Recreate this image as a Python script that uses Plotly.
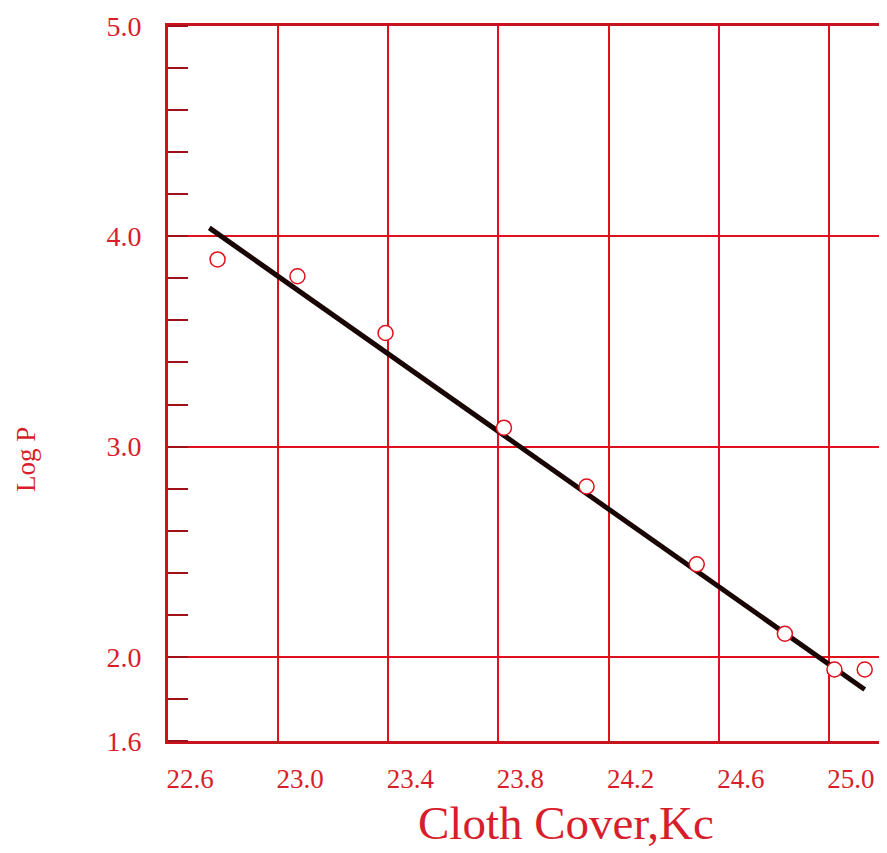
import plotly.graph_objects as go

# Data
kc = [22.78, 23.07, 23.39, 23.82, 24.12, 24.52, 24.84, 25.02, 25.13]
log_p = [3.89, 3.81, 3.54, 3.09, 2.81, 2.44, 2.11, 1.94, 1.94]
fit_kc = [22.75, 25.13]
fit_log_p = [4.04, 1.845]

x_ticks = [22.6, 23.0, 23.4, 23.8, 24.2, 24.6, 25.0]
x_labels = ["22.6", "23.0", "23.4", "23.8", "24.2", "24.6", "25.0"]
y_ticks = [1.6, 2.0, 3.0, 4.0, 5.0]
y_labels = ["1.6", "2.0", "3.0", "4.0", "5.0"]

RED = "#e0101c"
FRAME = "#c8141e"
TXT = "#d81e2a"
SERIF = "Liberation Serif"

# page body has an 8px margin; lay the figure out to compensate
OFF = 8
W, H = 887 - OFF, 853 - OFF
L, R, T = 168 - OFF, 3, 26 - OFF
PH = 741 - 26
B = H - T - PH
PW = W - L - R

fig = go.Figure()
fig.add_trace(go.Scatter(x=fit_kc, y=fit_log_p, mode="lines",
                         line=dict(color="#1a0505", width=5), showlegend=False))
fig.add_trace(go.Scatter(x=kc, y=log_p, mode="markers",
                         marker=dict(symbol="circle", size=15, color="white",
                                     line=dict(color=RED, width=1.5)),
                         showlegend=False))

fig.update_layout(
    width=W, height=H,
    margin=dict(l=L, r=R, t=T, b=B, autoexpand=False),
    paper_bgcolor="white", plot_bgcolor="white",
    font=dict(family=SERIF, color=TXT),
    xaxis=dict(range=[22.6, 25.2], tickvals=x_ticks, ticktext=x_labels,
               showgrid=True, gridcolor=RED, gridwidth=2,
               showline=True, linecolor=FRAME, linewidth=3, mirror=True,
               ticks="", zeroline=False, ticklabelshift=22, ticklabelstandoff=12,
               automargin=False,
               tickfont=dict(family=SERIF, size=27, color=TXT)),
    yaxis=dict(range=[1.6, 5.0], tickvals=y_ticks, ticktext=y_labels,
               showgrid=True, gridcolor=RED, gridwidth=2,
               showline=True, linecolor=FRAME, linewidth=3, mirror=True,
               ticks="", zeroline=False, ticklabelstandoff=18,
               automargin=False,
               tickfont=dict(family=SERIF, size=28, color=TXT),
               minor=dict(tick0=1.6, dtick=0.2, ticks="inside", ticklen=20,
                          tickwidth=1.5, tickcolor="#a01018", showgrid=False)),
    annotations=[
        dict(text="Cloth Cover,Kc", xref="paper", yref="paper",
             x=(566 - 168) / PW, y=-(823 - 741) / PH,
             xanchor="center", yanchor="middle", showarrow=False,
             font=dict(family=SERIF, size=47, color=TXT)),
        dict(text="Log P", textangle=-90, xref="paper", yref="paper",
             x=(26 - 168) / PW, y=1 - (460 - 26) / PH,
             xanchor="center", yanchor="middle", showarrow=False,
             font=dict(family=SERIF, size=27, color=TXT)),
    ],
)

fig.write_html("out.html")
